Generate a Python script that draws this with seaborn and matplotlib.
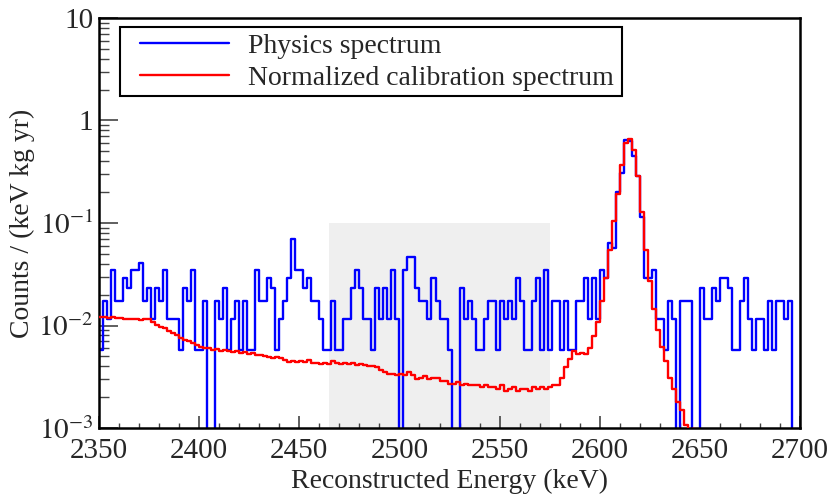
import numpy as np
import pandas as pd
import matplotlib
matplotlib.use("Agg")
import matplotlib.pyplot as plt
from matplotlib.lines import Line2D
from matplotlib.patches import Rectangle
from matplotlib.ticker import MultipleLocator, LogLocator, FuncFormatter, NullFormatter
import seaborn as sns

# binning of both spectra (keV)
e_min, e_max, bin_width = 2350, 2700, 2
# one physics count expressed in counts / (keV kg yr)
count_unit = 0.00576

# physics spectrum, counts per 2 keV bin
physics_counts = [
    1, 3, 2, 6, 3, 3, 5, 4, 6, 6, 7, 3, 4, 2, 4, 3, 6, 2, 2, 2,
    1, 4, 3, 6, 1, 1, 3, 0, 0, 3, 2, 4, 1, 2, 3, 1, 3, 1, 1, 6,
    3, 3, 5, 4, 1, 2, 3, 5, 12, 6, 6, 4, 5, 3, 3, 2, 1, 1, 3, 1,
    1, 2, 2, 4, 6, 4, 2, 2, 1, 4, 2, 4, 2, 6, 2, 0, 6, 8, 8, 4,
    3, 3, 2, 5, 3, 2, 2, 1, 0, 0, 4, 2, 3, 2, 1, 1, 2, 3, 3, 1,
    3, 2, 3, 2, 5, 3, 1, 1, 3, 5, 1, 6, 1, 3, 3, 1, 3, 1, 1, 3,
    3, 5, 2, 5, 2, 6, 5, 11, 10, 35, 53, 112, 110, 78, 50, 20, 5, 5, 6, 2,
    2, 1, 3, 2, 0, 3, 3, 3, 0, 0, 4, 2, 2, 4, 3, 5, 5, 4, 1, 1,
    3, 5, 2, 1, 2, 2, 1, 3, 1, 3, 3, 2, 3, 0, 0,
]

# normalized calibration spectrum, counts / (keV kg yr)
calib_values = [
    0.0122, 0.0120, 0.0118, 0.0121, 0.0119, 0.0118, 0.0117, 0.0116, 0.0117, 0.0115,
    0.0114, 0.0115, 0.0116, 0.0108, 0.0102, 0.0097, 0.0094, 0.0089, 0.0085, 0.0080,
    0.0076, 0.0072, 0.0070, 0.0067, 0.0064, 0.0062, 0.0061, 0.0060, 0.0058, 0.0059,
    0.0057, 0.0058, 0.0056, 0.0055, 0.0056, 0.0054, 0.0055, 0.0053, 0.0054, 0.0052,
    0.0051, 0.0050, 0.0049, 0.0048, 0.0049, 0.0048, 0.0046, 0.0044, 0.0045, 0.0044,
    0.0045, 0.0044, 0.0046, 0.0043, 0.0043, 0.0042, 0.0043, 0.0042, 0.0045, 0.0043,
    0.0042, 0.0043, 0.0042, 0.0043, 0.0041, 0.0042, 0.0041, 0.0040, 0.0040, 0.0039,
    0.0037, 0.0035, 0.0034, 0.0034, 0.0033, 0.0034, 0.0033, 0.0035, 0.0033, 0.0030,
    0.0031, 0.0032, 0.0030, 0.0031, 0.0031, 0.0029, 0.0029, 0.0027, 0.0027, 0.0028,
    0.0026, 0.0027, 0.0026, 0.0026, 0.0026, 0.0025, 0.0026, 0.0025, 0.0025, 0.0024,
    0.0026, 0.0023, 0.0024, 0.0025, 0.0023, 0.0024, 0.0024, 0.0023, 0.0025, 0.0024,
    0.0025, 0.0024, 0.0025, 0.0026, 0.0026, 0.0031, 0.0039, 0.0047, 0.0056, 0.0053,
    0.0054, 0.0053, 0.0061, 0.0079, 0.0108, 0.0172, 0.029, 0.054, 0.105, 0.192,
    0.37, 0.60, 0.66, 0.52, 0.29, 0.128, 0.054, 0.027, 0.0145, 0.0091,
    0.0062, 0.0045, 0.0031, 0.0024, 0.0018, 0.0015, 0.00107, 0.00095, 0.00098, 0,
    0, 0, 0, 0, 0, 0, 0, 0, 0, 0,
    0, 0, 0, 0, 0, 0, 0, 0, 0, 0,
    0, 0, 0, 0, 0,
]

# shaded region of interest
roi_low, roi_high, roi_top = 2465, 2575, 0.1

labels = ["Physics spectrum", "Normalized calibration spectrum"]

edges = np.arange(e_min, e_max + bin_width, bin_width)
centers = edges[:-1] + bin_width / 2
df = pd.DataFrame({
    "energy": centers,
    "physics": np.array(physics_counts) * count_unit,
    "calib": calib_values,
})

sns.set_style("ticks")
plt.rcParams['font.family'] = ['Liberation Serif', 'DejaVu Serif']
plt.rcParams['mathtext.fontset'] = 'stix'

fig = plt.figure(figsize=(8.28, 4.97), dpi=100)
ax = fig.add_axes([0.1196, 0.1388, 0.8466, 0.825])

ax.fill_between([roi_low, roi_high], 1e-3, roi_top, color='#efefef', lw=0, zorder=0)

sns.histplot(data=df, x="energy", weights="physics", binwidth=bin_width,
             binrange=(e_min, e_max), element='step',
             fill=False, color='#0000ff', linewidth=1.7, ax=ax, zorder=2)
sns.histplot(data=df, x="energy", weights="calib", binwidth=bin_width,
             binrange=(e_min, e_max), element='step',
             fill=False, color='#ff0000', linewidth=1.7, ax=ax, zorder=3)

ax.set_yscale('log')
ax.set_xlim(e_min, e_max)
ax.set_ylim(1e-3, 10)

def ylab(v, pos):
    if v >= 10:
        return "10"
    if v >= 1:
        return "1"
    return r"$10^{%d}$" % int(round(np.log10(v)))

ax.xaxis.set_major_locator(MultipleLocator(50))
ax.xaxis.set_minor_locator(MultipleLocator(10))
ax.yaxis.set_major_locator(LogLocator(base=10))
ax.yaxis.set_minor_locator(LogLocator(base=10, subs=np.arange(2, 10)))
ax.yaxis.set_major_formatter(FuncFormatter(ylab))
ax.yaxis.set_minor_formatter(NullFormatter())

ax.tick_params(axis='x', which='major', direction='in', length=8.6, width=1.2,
               labelsize=21, pad=7.5, top=False, color='#444444')
ax.tick_params(axis='x', which='minor', direction='in', length=3.6, width=1.0,
               top=False, color='#444444')
ax.tick_params(axis='y', which='major', direction='in', length=14, width=1.2,
               labelsize=21, pad=4, right=False, color='#444444')
ax.tick_params(axis='y', which='minor', direction='in', length=7.5, width=1.0,
               right=False, color='#444444')

for s in ax.spines.values():
    s.set_visible(True)
    s.set_color('black')
    s.set_linewidth(1.8)

ax.set_xlabel("Reconstructed Energy (keV)", fontsize=20, labelpad=3)
ax.set_ylabel("Counts / (keV kg yr)", fontsize=20, labelpad=2)

# legend box
ax.add_patch(Rectangle((0.030, 0.810), 0.716, 0.168, transform=ax.transAxes,
                       facecolor='white', edgecolor='black', lw=1.5, zorder=5))
handles = [Line2D([0], [0], color='#0000ff', lw=1.7),
           Line2D([0], [0], color='#ff0000', lw=1.7)]
leg = ax.legend(handles, labels, loc='upper left', bbox_to_anchor=(0.0585, 0.962),
                frameon=False, fontsize=20, handlelength=3.2, handletextpad=0.7,
                labelspacing=0.22, borderpad=0, borderaxespad=0)
leg.set_zorder(6)

fig.savefig("out.png", dpi=100)
